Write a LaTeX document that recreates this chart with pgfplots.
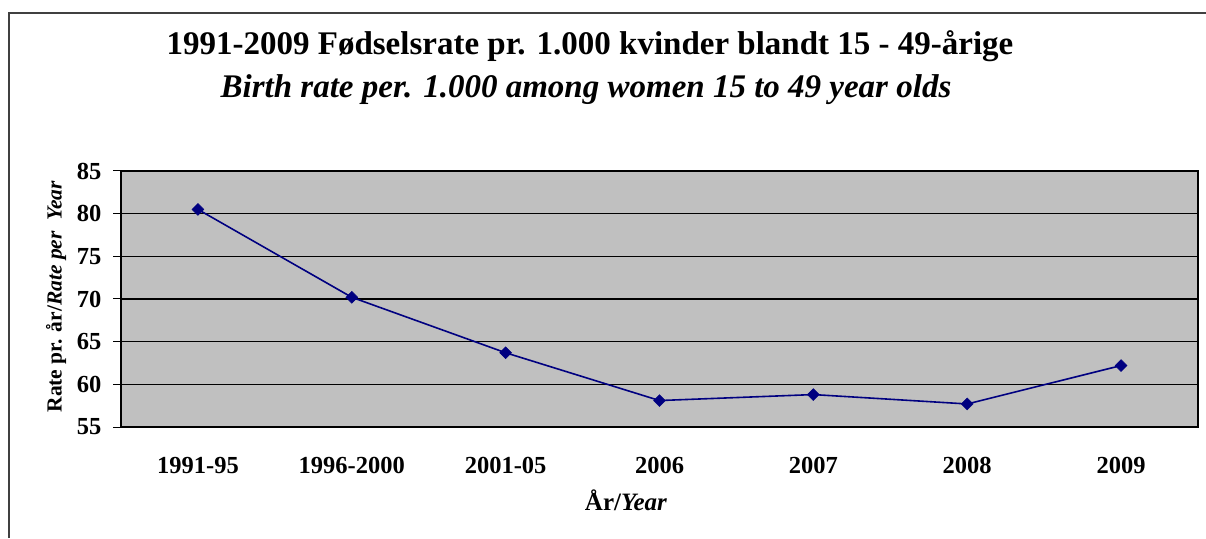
\documentclass[border=0pt]{standalone}
\usepackage{fontspec}
\setmainfont{Liberation Serif}
\usepackage{pgfplots}
\pgfplotsset{compat=1.18}
\definecolor{plotbg}{HTML}{C0C0C0}
\definecolor{navyline}{HTML}{000080}
\begin{document}
\begin{tikzpicture}[x=1pt,y=1pt]
\path[use as bounding box] (0,0) rectangle (1206,538);
\draw[line width=2pt, color=black!75] (9,0) -- (9,525) -- (1207,525);
\node[font=\fontsize{33}{33}\selectfont\bfseries, anchor=base] at (590,483) {1991-2009 Fødselsrate pr. 1.000 kvinder blandt 15 - 49-årige};
\node[font=\fontsize{33}{33}\selectfont\bfseries\itshape, anchor=base] at (586,440) {Birth rate per. 1.000 among women 15 to 49 year olds};
\node[font=\fontsize{21.5}{21.5}\selectfont\bfseries, rotate=90, anchor=base] at (61.7,241.3) {Rate pr. år/\textit{Rate per\ \ Year}};
\node[font=\fontsize{25}{25}\selectfont\bfseries, anchor=base] at (626,28) {År/\textit{Year}};
\begin{axis}[
  at={(121pt,111pt)}, anchor=south west,
  scale only axis, width=1077pt, height=256pt,
  xmin=-0.5, xmax=6.5, ymin=55, ymax=85,
  axis background/.style={fill=plotbg},
  axis line style={black, line width=1.5pt},
  xtick={0,...,6},
  xticklabels={1991-95,1996-2000,2001-05,2006,2007,2008,2009},
  minor xtick={-0.5,0.5,...,6.5},
  xtick style={draw=none},
  minor x tick style={black, line width=1pt},
  minor tick length=8pt,
  ytick={55,60,...,85},
  ytick style={black, line width=1pt},
  major tick length=8pt,
  tick align=outside,
  tick pos=left,
  ymajorgrids,
  grid style={black, line width=1.1pt},
  /pgf/number format/assume math mode=true,
  ticklabel style={font=\fontsize{24.5}{24.5}\selectfont\bfseries},
  xticklabel style={yshift=-19pt},
  yticklabel style={xshift=-8pt},
  clip=false,
]
\addplot[navyline, line width=1.6pt, mark=square*, mark size=4.2pt, mark options={fill=navyline, draw=navyline, rotate=45, line width=0.5pt}]
  table {
x y
0 80.5
1 70.2
2 63.7
3 58.1
4 58.8
5 57.7
6 62.2
};
\end{axis}
\end{tikzpicture}
\end{document}
